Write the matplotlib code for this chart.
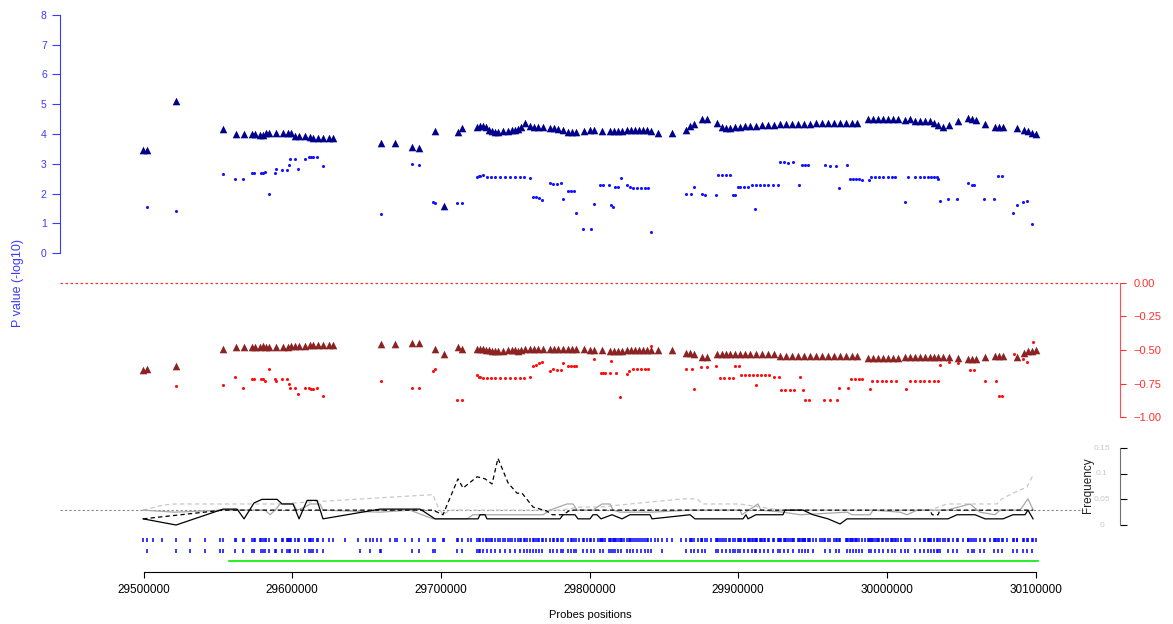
import matplotlib
matplotlib.use("Agg")
import matplotlib.pyplot as plt

plt.rcParams['font.family'] = ['Liberation Sans', 'DejaVu Sans']

# probe positions (kb) carrying the triangle statistics (shared by both panels)
tri_pos = [29499.7, 29502.4, 29521.9, 29553.5, 29562.2, 29567.6, 29573.0, 29575.0, 29578.4, 29580.4,
           29582.4, 29584.4, 29589.1, 29593.8, 29597.2, 29599.2, 29601.9, 29604.6, 29608.6, 29612.0,
           29614.0, 29617.4, 29620.7, 29624.8, 29627.5, 29659.7, 29669.2, 29680.6, 29685.3, 29696.1,
           29702.1, 29711.5, 29714.2, 29724.3, 29726.3, 29728.3, 29730.4, 29732.4, 29734.4, 29736.4,
           29738.4, 29741.8, 29745.2, 29747.9, 29749.9, 29751.9, 29753.9, 29756.6, 29760.0, 29762.7,
           29765.4, 29768.7, 29773.4, 29776.1, 29778.8, 29782.2, 29785.5, 29788.2, 29790.9, 29796.3,
           29800.3, 29803.0, 29808.4, 29813.8, 29816.5, 29819.1, 29821.8, 29825.2, 29827.9, 29830.6,
           29833.3, 29836.0, 29838.7, 29841.3, 29846.1, 29855.5, 29864.9, 29867.6, 29870.3, 29875.7,
           29879.0, 29885.7, 29889.1, 29891.8, 29894.5, 29897.8, 29901.2, 29904.6, 29907.9, 29911.9,
           29916.0, 29920.0, 29924.1, 29928.1, 29932.2, 29936.2, 29940.2, 29944.3, 29948.3, 29952.3,
           29956.4, 29960.4, 29964.5, 29968.5, 29972.5, 29976.6, 29979.9, 29987.3, 29990.7, 29994.0,
           29997.4, 30000.8, 30004.1, 30007.5, 30012.2, 30015.6, 30018.9, 30022.3, 30025.6, 30029.0,
           30031.7, 30034.4, 30037.7, 30041.8, 30047.8, 30054.5, 30057.2, 30059.9, 30066.0, 30072.7,
           30075.4, 30078.1, 30087.5, 30092.2, 30094.9, 30097.6, 30100.3]

tri_top = [3.45, 3.45, 5.12, 4.17, 4.00, 4.00, 4.00, 4.00, 3.95, 3.97,
           4.03, 4.05, 4.03, 4.03, 4.05, 4.05, 3.92, 3.92, 3.92, 3.90,
           3.87, 3.87, 3.87, 3.87, 3.87, 3.69, 3.69, 3.57, 3.53, 4.10,
           1.58, 4.07, 4.20, 4.25, 4.27, 4.27, 4.22, 4.15, 4.10, 4.07,
           4.07, 4.10, 4.10, 4.13, 4.15, 4.18, 4.25, 4.37, 4.27, 4.23,
           4.23, 4.23, 4.20, 4.20, 4.17, 4.12, 4.08, 4.08, 4.08, 4.10,
           4.13, 4.13, 4.10, 4.10, 4.10, 4.10, 4.10, 4.13, 4.13, 4.13,
           4.13, 4.13, 4.12, 4.10, 4.03, 4.03, 4.13, 4.27, 4.32, 4.50,
           4.50, 4.37, 4.25, 4.20, 4.20, 4.22, 4.25, 4.27, 4.27, 4.27,
           4.30, 4.30, 4.30, 4.32, 4.32, 4.33, 4.33, 4.35, 4.35, 4.37,
           4.37, 4.37, 4.37, 4.37, 4.37, 4.37, 4.37, 4.50, 4.50, 4.50,
           4.50, 4.50, 4.50, 4.50, 4.48, 4.50, 4.43, 4.43, 4.43, 4.45,
           4.38, 4.30, 4.25, 4.30, 4.43, 4.55, 4.50, 4.48, 4.33, 4.25,
           4.23, 4.23, 4.20, 4.15, 4.10, 4.05, 4.00]

tri_mid = [-0.65, -0.64, -0.62, -0.49, -0.48, -0.48, -0.48, -0.48, -0.48, -0.47,
           -0.48, -0.48, -0.48, -0.48, -0.475, -0.47, -0.47, -0.47, -0.47, -0.46,
           -0.46, -0.46, -0.465, -0.465, -0.465, -0.455, -0.455, -0.45, -0.45, -0.49,
           -0.53, -0.48, -0.49, -0.49, -0.49, -0.49, -0.50, -0.50, -0.51, -0.51,
           -0.51, -0.51, -0.50, -0.50, -0.50, -0.51, -0.50, -0.49, -0.49, -0.49,
           -0.49, -0.49, -0.49, -0.49, -0.49, -0.49, -0.49, -0.49, -0.49, -0.49,
           -0.50, -0.50, -0.50, -0.51, -0.51, -0.51, -0.51, -0.50, -0.50, -0.50,
           -0.50, -0.50, -0.50, -0.50, -0.50, -0.50, -0.52, -0.52, -0.53, -0.55,
           -0.55, -0.53, -0.53, -0.53, -0.53, -0.53, -0.53, -0.53, -0.53, -0.53,
           -0.53, -0.53, -0.53, -0.545, -0.545, -0.545, -0.545, -0.545, -0.545, -0.545,
           -0.545, -0.545, -0.545, -0.545, -0.545, -0.545, -0.545, -0.56, -0.56, -0.56,
           -0.56, -0.56, -0.56, -0.56, -0.55, -0.55, -0.55, -0.55, -0.55, -0.55,
           -0.55, -0.55, -0.55, -0.55, -0.56, -0.57, -0.57, -0.57, -0.55, -0.545,
           -0.545, -0.545, -0.55, -0.52, -0.51, -0.51, -0.50]

# small blue dots, upper panel
dot_top_pos = [29502.4, 29521.9, 29553.5, 29561.5, 29566.9, 29573.0, 29574.3, 29579.0, 29580.4, 29581.7,
               29584.4, 29588.4, 29589.1, 29593.2, 29596.5, 29597.9, 29598.5, 29601.9, 29603.9, 29608.6,
               29611.3, 29612.7, 29614.0, 29616.7, 29620.7, 29659.7, 29680.6, 29685.3, 29694.7, 29696.1,
               29710.9, 29714.2, 29724.3, 29725.5, 29726.3, 29728.3, 29731.0, 29733.7, 29736.4, 29739.8,
               29743.1, 29746.5, 29749.9, 29753.2, 29755.9, 29760.0, 29762.0, 29764.0, 29766.0, 29768.0,
               29773.4, 29775.4, 29778.1, 29780.8, 29782.2, 29785.5, 29787.5, 29789.6, 29790.9, 29795.6,
               29801.0, 29803.0, 29807.0, 29809.1, 29813.1, 29814.4, 29815.8, 29817.1, 29819.1, 29821.2,
               29825.2, 29827.2, 29829.2, 29831.9, 29834.6, 29837.3, 29839.3, 29841.3, 29864.9, 29868.2,
               29870.3, 29875.6, 29877.7, 29885.1, 29886.4, 29889.1, 29891.8, 29894.5, 29896.5, 29897.8,
               29899.9, 29901.2, 29903.9, 29906.6, 29909.3, 29911.3, 29911.9, 29914.6, 29917.3, 29920.0,
               29923.4, 29926.8, 29928.1, 29930.8, 29933.5, 29936.9, 29940.9, 29942.9, 29945.0, 29947.0,
               29958.4, 29961.7, 29965.8, 29967.8, 29973.2, 29975.2, 29977.2, 29979.2, 29981.3, 29983.3,
               29988.0, 29989.3, 29992.0, 29994.7, 29997.4, 30000.8, 30003.4, 30005.5, 30012.2, 30014.2,
               30018.9, 30022.3, 30025.0, 30027.6, 30029.7, 30031.7, 30033.7, 30034.4, 30035.7, 30041.1,
               30047.2, 30054.6, 30057.2, 30058.6, 30065.3, 30072.0, 30074.7, 30077.4, 30084.8, 30087.5,
               30091.5, 30094.2, 30097.6]
dot_top = [1.55, 1.42, 2.64, 2.48, 2.50, 2.70, 2.70, 2.70, 2.70, 2.72,
           2.00, 2.70, 2.83, 2.80, 2.80, 2.97, 3.17, 3.17, 2.83, 3.17,
           3.23, 3.24, 3.24, 3.23, 2.92, 1.30, 2.98, 2.95, 1.73, 1.67,
           1.67, 1.67, 2.55, 2.58, 2.60, 2.62, 2.57, 2.56, 2.56, 2.56,
           2.56, 2.56, 2.55, 2.56, 2.55, 2.53, 1.88, 1.87, 1.84, 1.78,
           2.35, 2.31, 2.33, 2.36, 1.80, 2.10, 2.10, 2.10, 1.33, 0.80,
           0.80, 1.65, 2.28, 2.28, 2.28, 1.60, 1.55, 2.23, 2.23, 2.52,
           2.27, 2.22, 2.17, 2.17, 2.17, 2.17, 2.17, 0.72, 2.00, 2.00,
           2.23, 1.97, 1.95, 1.95, 2.62, 2.62, 2.62, 2.62, 1.95, 1.95,
           2.23, 2.23, 2.22, 2.23, 2.28, 1.48, 2.28, 2.28, 2.28, 2.28,
           2.30, 2.30, 3.05, 3.05, 3.04, 3.05, 2.30, 2.97, 2.96, 2.96,
           2.95, 2.94, 2.94, 2.20, 2.95, 2.50, 2.49, 2.49, 2.48, 2.45,
           2.45, 2.55, 2.55, 2.55, 2.55, 2.55, 2.55, 2.55, 1.73, 2.55,
           2.55, 2.55, 2.55, 2.55, 2.55, 2.55, 2.55, 2.50, 1.75, 1.80,
           1.82, 2.35, 2.28, 2.28, 1.82, 1.82, 2.60, 2.60, 1.33, 1.63,
           1.70, 1.75, 0.98]

# small red dots, middle panel
dot_mid_pos = [29521.9, 29553.5, 29561.5, 29566.9, 29573.0, 29574.3, 29579.0, 29580.4, 29581.7, 29584.4,
               29588.4, 29589.1, 29593.2, 29596.5, 29597.9, 29598.5, 29601.9, 29603.9, 29608.6, 29611.3,
               29612.7, 29614.0, 29616.7, 29620.7, 29659.7, 29680.6, 29685.3, 29694.7, 29696.1, 29710.9,
               29714.2, 29724.3, 29725.5, 29726.3, 29728.3, 29731.0, 29733.7, 29736.4, 29739.8, 29743.1,
               29746.5, 29749.9, 29753.2, 29755.9, 29760.0, 29762.0, 29764.0, 29766.0, 29768.0, 29773.4,
               29775.4, 29778.1, 29780.8, 29782.2, 29785.5, 29787.5, 29789.6, 29790.9, 29803.0, 29807.7,
               29809.1, 29810.4, 29813.8, 29814.4, 29817.8, 29820.8, 29825.2, 29826.5, 29829.2, 29831.9,
               29834.6, 29837.3, 29839.3, 29841.3, 29864.9, 29868.9, 29870.3, 29875.0, 29879.0, 29885.1,
               29887.8, 29890.5, 29893.8, 29896.5, 29897.8, 29900.5, 29901.8, 29904.6, 29907.2, 29909.9,
               29912.0, 29912.6, 29915.3, 29918.0, 29920.7, 29924.1, 29927.4, 29928.8, 29931.5, 29934.8,
               29937.5, 29941.6, 29943.6, 29944.9, 29947.6, 29957.7, 29961.7, 29966.4, 29967.8, 29973.8,
               29975.9, 29978.6, 29981.3, 29983.3, 29988.7, 29990.0, 29993.4, 29996.7, 29999.4, 30002.8,
               30006.1, 30012.9, 30015.6, 30018.9, 30022.3, 30025.0, 30028.3, 30031.7, 30034.4, 30035.7,
               30041.8, 30047.8, 30055.9, 30058.6, 30066.0, 30073.4, 30075.4, 30077.4, 30085.5, 30087.8,
               30091.5, 30094.2, 30098.0]
dot_mid = [-0.77, -0.76, -0.70, -0.78, -0.72, -0.72, -0.72, -0.72, -0.73, -0.64,
           -0.72, -0.73, -0.72, -0.72, -0.75, -0.78, -0.78, -0.83, -0.78, -0.78,
           -0.79, -0.79, -0.78, -0.84, -0.73, -0.78, -0.78, -0.66, -0.64, -0.87,
           -0.87, -0.69, -0.70, -0.70, -0.71, -0.71, -0.71, -0.71, -0.71, -0.71,
           -0.71, -0.71, -0.71, -0.71, -0.70, -0.62, -0.61, -0.60, -0.59, -0.66,
           -0.64, -0.65, -0.65, -0.60, -0.62, -0.62, -0.62, -0.62, -0.57, -0.67,
           -0.67, -0.67, -0.67, -0.58, -0.67, -0.85, -0.68, -0.66, -0.64, -0.64,
           -0.64, -0.64, -0.64, -0.47, -0.64, -0.64, -0.79, -0.63, -0.63, -0.62,
           -0.71, -0.71, -0.71, -0.71, -0.62, -0.62, -0.69, -0.69, -0.69, -0.69,
           -0.76, -0.69, -0.69, -0.69, -0.69, -0.70, -0.70, -0.80, -0.80, -0.80,
           -0.80, -0.70, -0.80, -0.87, -0.87, -0.87, -0.87, -0.87, -0.78, -0.78,
           -0.72, -0.72, -0.72, -0.72, -0.79, -0.73, -0.73, -0.73, -0.73, -0.73,
           -0.73, -0.79, -0.73, -0.73, -0.73, -0.73, -0.73, -0.73, -0.73, -0.61,
           -0.59, -0.60, -0.65, -0.65, -0.73, -0.73, -0.84, -0.84, -0.53, -0.56,
           -0.57, -0.59, -0.44]

# probes without a test value (shown only in the rug)
extra_probes = [29506.4, 29512.4, 29531.2, 29541.3, 29551.4, 29635.5, 29644.5, 29649.8,
                29652.5, 29654.5, 29657.2, 29665.9, 29670.6, 29676.0, 29691.3, 29701.4,
                29718.0, 29720.5, 29757.8, 29770.9, 29793.0, 29798.5, 29805.5, 29823.5,
                29843.8, 29849.0, 29852.3, 29861.5, 29873.0, 29882.0, 29950.5, 29954.8,
                29985.0, 30009.8, 30039.0, 30044.5, 30051.0, 30062.8, 30069.5, 30081.0]
extra_sub = [29531.2, 29541.3, 29551.4, 29645.8, 29652.5, 29659.0, 29757.8, 29798.5,
             29849.0, 29873.0, 29950.5, 30009.8, 30044.5, 30062.8]

# frequency lines (bottom panel)
solid_x = [29499.7, 29521.9, 29553.5, 29562.9, 29567.6, 29574.3, 29579.7, 29589.8, 29593.2, 29600.6,
           29604.6, 29610.0, 29616.7, 29620.7, 29659.1, 29686.0, 29696.1, 29725.0, 29726.3, 29729.7,
           29731.0, 29780.1, 29782.2, 29790.2, 29792.2, 29800.3, 29802.3, 29805.0, 29807.7, 29815.1,
           29821.8, 29827.2, 29840.7, 29842.0, 29867.6, 29870.9, 29903.2, 29905.2, 29906.6, 29911.9,
           29930.1, 29931.5, 29943.6, 29950.3, 29960.4, 29968.5, 29973.2, 30041.1, 30047.2, 30059.3,
           30066.0, 30078.1, 30084.8, 30092.9, 30094.9, 30098.3]
solid_y = [0.012, 0.000, 0.031, 0.031, 0.012, 0.043, 0.050, 0.050, 0.041, 0.041,
           0.012, 0.048, 0.048, 0.012, 0.031, 0.031, 0.012, 0.012, 0.020, 0.020,
           0.012, 0.012, 0.020, 0.020, 0.012, 0.012, 0.020, 0.020, 0.012, 0.020,
           0.012, 0.020, 0.020, 0.012, 0.020, 0.012, 0.012, 0.020, 0.012, 0.020,
           0.020, 0.029, 0.029, 0.020, 0.012, 0.002, 0.012, 0.012, 0.020, 0.020,
           0.012, 0.012, 0.020, 0.020, 0.029, 0.012]

dash_x = [29499.7, 29553.5, 29694.7, 29701.4, 29711.5, 29714.9, 29724.3, 29729.7, 29734.4, 29738.4,
          29745.2, 29751.2, 29754.6, 29762.0, 29771.4, 29774.8, 29782.2, 29786.9, 30029.0, 30030.4,
          30034.4, 30035.7, 30098.3]
dash_y = [0.012, 0.029, 0.029, 0.020, 0.090, 0.072, 0.094, 0.090, 0.080, 0.130,
          0.082, 0.062, 0.062, 0.035, 0.027, 0.020, 0.020, 0.029, 0.029, 0.020,
          0.020, 0.029, 0.029]

grey_x = [29499.7, 29521.2, 29553.5, 29581.7, 29585.1, 29588.4, 29591.8, 29600.6, 29603.2, 29608.6,
          29612.0, 29618.7, 29620.7, 29659.1, 29679.2, 29694.7, 29717.6, 29721.6, 29768.7, 29773.4,
          29784.8, 29788.9, 29791.6, 29802.3, 29808.4, 29813.8, 29815.8, 29820.5, 29842.0, 29867.6,
          29901.2, 29902.5, 29913.3, 29915.3, 29930.1, 29941.6, 29973.2, 29976.6, 29988.7, 29990.7,
          30008.9, 30013.6, 30020.3, 30040.4, 30055.9, 30062.6, 30072.7, 30076.1, 30089.5, 30094.9,
          30098.3]
grey_y = [0.029, 0.025, 0.029, 0.029, 0.020, 0.029, 0.041, 0.041, 0.029, 0.035,
          0.041, 0.041, 0.029, 0.025, 0.029, 0.012, 0.012, 0.020, 0.020, 0.029,
          0.041, 0.041, 0.029, 0.029, 0.041, 0.041, 0.029, 0.025, 0.025, 0.029,
          0.029, 0.020, 0.041, 0.029, 0.025, 0.020, 0.025, 0.020, 0.020, 0.029,
          0.025, 0.020, 0.029, 0.029, 0.041, 0.025, 0.020, 0.029, 0.029, 0.051,
          0.030]

lgrey_x = [29499.7, 29513.1, 29521.2, 29589.8, 29688.0, 29694.7, 29698.1, 29701.4, 29706.1, 29780.1,
           29793.6, 29807.0, 29827.2, 29862.9, 29872.3, 29876.3, 29901.2, 29914.6, 29928.1, 30029.0,
           30040.4, 30074.0, 30077.4, 30084.8, 30094.2, 30098.3]
lgrey_y = [0.029, 0.039, 0.041, 0.041, 0.058, 0.059, 0.035, 0.020, 0.029, 0.029,
           0.035, 0.035, 0.041, 0.051, 0.051, 0.041, 0.041, 0.035, 0.029, 0.029,
           0.041, 0.041, 0.051, 0.062, 0.074, 0.097]

freq_threshold = 0.029
region = (29557.5, 30101.6)

x_ticks = [29500, 29600, 29700, 29800, 29900, 30000, 30100]

W, H = 1173, 624
XLIM = (29443.8, 30156.8)


def box(top, bottom):
    return [60 / W, 1 - bottom / H, 1060 / W, (bottom - top) / H]


fig = plt.figure(figsize=(W / 100, H / 100), dpi=100)

# ---- upper panel: -log10 p values
ax1 = fig.add_axes(box(10, 258))
ax1.scatter(dot_top_pos, dot_top, s=5, c='#1414ff', linewidths=0, zorder=2)
ax1.scatter(tri_pos, tri_top, marker='^', s=30, c='#00008b', linewidths=0, zorder=3)
ax1.set_xlim(*XLIM)
ax1.set_ylim(-0.168, 8.168)
for s in ['top', 'right', 'bottom']:
    ax1.spines[s].set_visible(False)
ax1.spines['left'].set_bounds(0, 8)
ax1.spines['left'].set_color('#3a3aff')
ax1.set_xticks([])
ax1.set_yticks(range(0, 9))
ax1.tick_params(axis='y', colors='#3a3aff', length=5.5, width=0.8, labelsize=7.5, pad=4)
ax1.patch.set_alpha(0)

# ---- middle panel
ax2 = fig.add_axes(box(275, 425))
ax2.axhline(0, color='#ff3030', lw=0.9, ls=(0, (2, 2)))
ax2.scatter(dot_mid_pos, dot_mid, s=5, c='#ff1010', linewidths=0, zorder=2)
ax2.scatter(tri_pos, tri_mid, marker='^', s=30, c='#8b2323', linewidths=0, zorder=3)
ax2.set_xlim(*XLIM)
ax2.set_ylim(-1.0597, 0.0597)
for s in ['top', 'left', 'bottom']:
    ax2.spines[s].set_visible(False)
ax2.spines['right'].set_bounds(-1, 0)
ax2.spines['right'].set_color('#ff5050')
ax2.yaxis.tick_right()
ax2.set_xticks([])
ax2.set_yticks([0, -0.25, -0.5, -0.75, -1])
ax2.set_yticklabels(['0.00', '\u22120.25', '\u22120.50', '\u22120.75', '\u22121.00'])
ax2.tick_params(axis='y', colors='#ff3030', length=4.5, width=0.8, labelsize=8, pad=5)
ax2.patch.set_alpha(0)

# ---- bottom panel: frequencies, probe rugs, region
ax3 = fig.add_axes(box(440, 572))
ax3.axhline(freq_threshold, xmin=0, xmax=0.965, color='#888888', lw=0.8, ls=(0, (2, 2)))
ax3.plot(lgrey_x, lgrey_y, color='#c8c8c8', lw=0.9, ls=(0, (3.5, 2.5)))
ax3.plot(grey_x, grey_y, color='#a8a8a8', lw=0.9)
ax3.plot(solid_x, solid_y, color='black', lw=0.9)
ax3.plot(dash_x, dash_y, color='black', lw=0.9, ls=(0, (3.5, 2.5)))

rug_all = sorted(set(tri_pos + dot_top_pos + dot_mid_pos + extra_probes))
rug_sub = sorted(set(dot_top_pos + extra_sub))
xt = ax3.get_xaxis_transform()
ax3.vlines(rug_all, 0.227, 0.258, transform=xt, color='#0000ff', lw=1.1)
ax3.vlines(rug_sub, 0.144, 0.174, transform=xt, color='#0000ff', lw=1.1)
ax3.plot(region, [0.083, 0.083], transform=xt, color='#00ee00', lw=1.2)

ax3.set_xlim(*XLIM)
ax3.set_ylim(-0.0916, 0.1657)
ax3.spines['top'].set_visible(False)
ax3.spines['left'].set_visible(False)
ax3.spines['bottom'].set_bounds(x_ticks[0], x_ticks[-1])
ax3.spines['right'].set_bounds(0, 0.15)
ax3.spines['right'].set_color('#707070')
ax3.set_xticks(x_ticks)
ax3.set_xticklabels([f'{t * 1000:d}' for t in x_ticks])
ax3.tick_params(axis='x', length=4.5, width=0.8, labelsize=8.5, pad=4)
ax3.yaxis.tick_right()
ax3.set_yticks([0, 0.05, 0.1, 0.15])
ax3.set_yticklabels([])
ax3.tick_params(axis='y', length=5, width=0.8)
yt = ax3.get_yaxis_transform()
for v, lab in zip([0, 0.05, 0.1, 0.15], ['0', '0.05', '0.1', '0.15']):
    ax3.text(0.983, v, lab, transform=yt, ha='center', va='center', fontsize=6, color='#c8c8c8')
ax3.patch.set_alpha(0)

fig.text(590 / W, 1 - 615 / H, 'Probes positions', ha='center', va='center', fontsize=8)
fig.text(18 / W, 1 - 283 / H, 'P value (-log10)', rotation=90, ha='center', va='center',
         fontsize=9, color='#3a3aff')
fig.text(1088 / W, 1 - 485 / H, 'Frequency', rotation=90, ha='center', va='center',
         fontsize=8.5, color='#222222')

fig.savefig('out.png', dpi=100, facecolor='white')
